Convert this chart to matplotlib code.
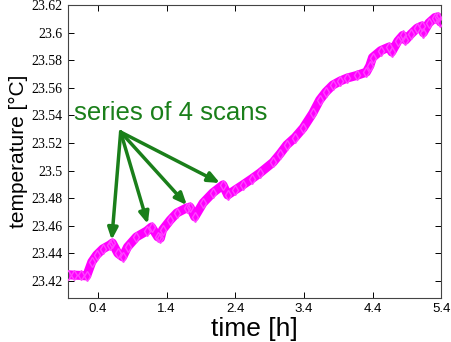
import numpy as np
import matplotlib.pyplot as plt

# temperature drift (time in h, temperature in degC)
time_h = [-0.04, 0.05, 0.15, 0.235, 0.31, 0.38, 0.47, 0.57, 0.61, 0.69, 0.76,
          0.83, 0.96, 1.11, 1.18, 1.27, 1.31, 1.34, 1.45, 1.55, 1.69, 1.74,
          1.81, 1.93, 2.07, 2.22, 2.29, 2.40, 2.51, 2.64, 2.76, 2.95, 3.05,
          3.15, 3.27, 3.39, 3.53, 3.63, 3.72, 3.82, 3.93, 4.03, 4.17, 4.31,
          4.36, 4.40, 4.52, 4.64, 4.68, 4.77, 4.84, 4.88, 4.96, 5.05, 5.12,
          5.14, 5.22, 5.31, 5.35, 5.39]
temp_c = [23.4245, 23.4242, 23.4240, 23.4236, 23.4338, 23.4388, 23.4432,
          23.4460, 23.4475, 23.4400, 23.4374, 23.4446, 23.4519, 23.4562,
          23.4591, 23.4520, 23.4510, 23.4570, 23.4640, 23.4693, 23.4729,
          23.4736, 23.4664, 23.4765, 23.4838, 23.4896, 23.4823, 23.4860,
          23.4896, 23.4940, 23.4983, 23.5060, 23.5120, 23.5186, 23.5240,
          23.5309, 23.5417, 23.5512, 23.5570, 23.5620, 23.5650, 23.5671,
          23.5690, 23.5714, 23.5760, 23.5820, 23.5870, 23.5896, 23.5860,
          23.5940, 23.5980, 23.5946, 23.5990, 23.6033, 23.6049, 23.6000,
          23.6070, 23.6110, 23.6115, 23.6077]

y_ticks = [23.42, 23.44, 23.46, 23.48, 23.5, 23.52, 23.54, 23.56, 23.58, 23.6, 23.62]
x_ticks = [0.4, 1.4, 2.4, 3.4, 4.4, 5.4]

# arrows: common tail, one head per scan series
tail = (0.73, 23.528)
heads = [(0.60, 23.4497), (1.126, 23.4613), (1.695, 23.475), (2.177, 23.491)]

green = '#1a7f1a'

fig = plt.figure(figsize=(4.52, 3.42), dpi=100)
ax = fig.add_axes([0.150, 0.129, 0.826, 0.856])

ax.plot(time_h, temp_c, color='magenta', lw=6.5, solid_capstyle='round',
        solid_joinstyle='round', zorder=2)
ax.plot(time_h, temp_c, ls='none', marker='d', ms=5.5, mfc='none',
        mec='#ff44ff', mew=1, zorder=3)

ax.text(0.045, 23.5417, 'series of 4 scans', color=green, fontsize=18.5,
        family='Liberation Sans', ha='left', va='center')
for h in heads:
    ax.annotate('', xy=h, xytext=tail,
                arrowprops=dict(arrowstyle='-|>,head_length=0.7,head_width=0.3',
                                color=green, lw=2.5, shrinkA=0, shrinkB=0))

ax.set_xlim(-0.04, 5.4)
ax.set_ylim(23.4077, 23.62)
ax.set_xticks(x_ticks)
ax.set_xticklabels([str(v) for v in x_ticks])
ax.set_yticks(y_ticks)
ax.set_yticklabels([f'{v:g}' for v in y_ticks])
for lab in ax.get_xticklabels():
    lab.set_fontfamily('Liberation Sans')
    lab.set_fontsize(9.5)
for lab in ax.get_yticklabels():
    lab.set_fontfamily('Liberation Serif')
    lab.set_fontsize(10)
ax.tick_params(direction='in', top=True, right=True, length=4, width=0.7, pad=4)
for s in ax.spines.values():
    s.set_linewidth(0.8)
    s.set_color('#444444')

ax.set_xlabel('time [h]', family='Liberation Sans', fontsize=19, labelpad=1)
ax.set_ylabel('temperature [°C]', family='Liberation Sans', fontsize=15, labelpad=2)

fig.savefig('out.png', dpi=100)
